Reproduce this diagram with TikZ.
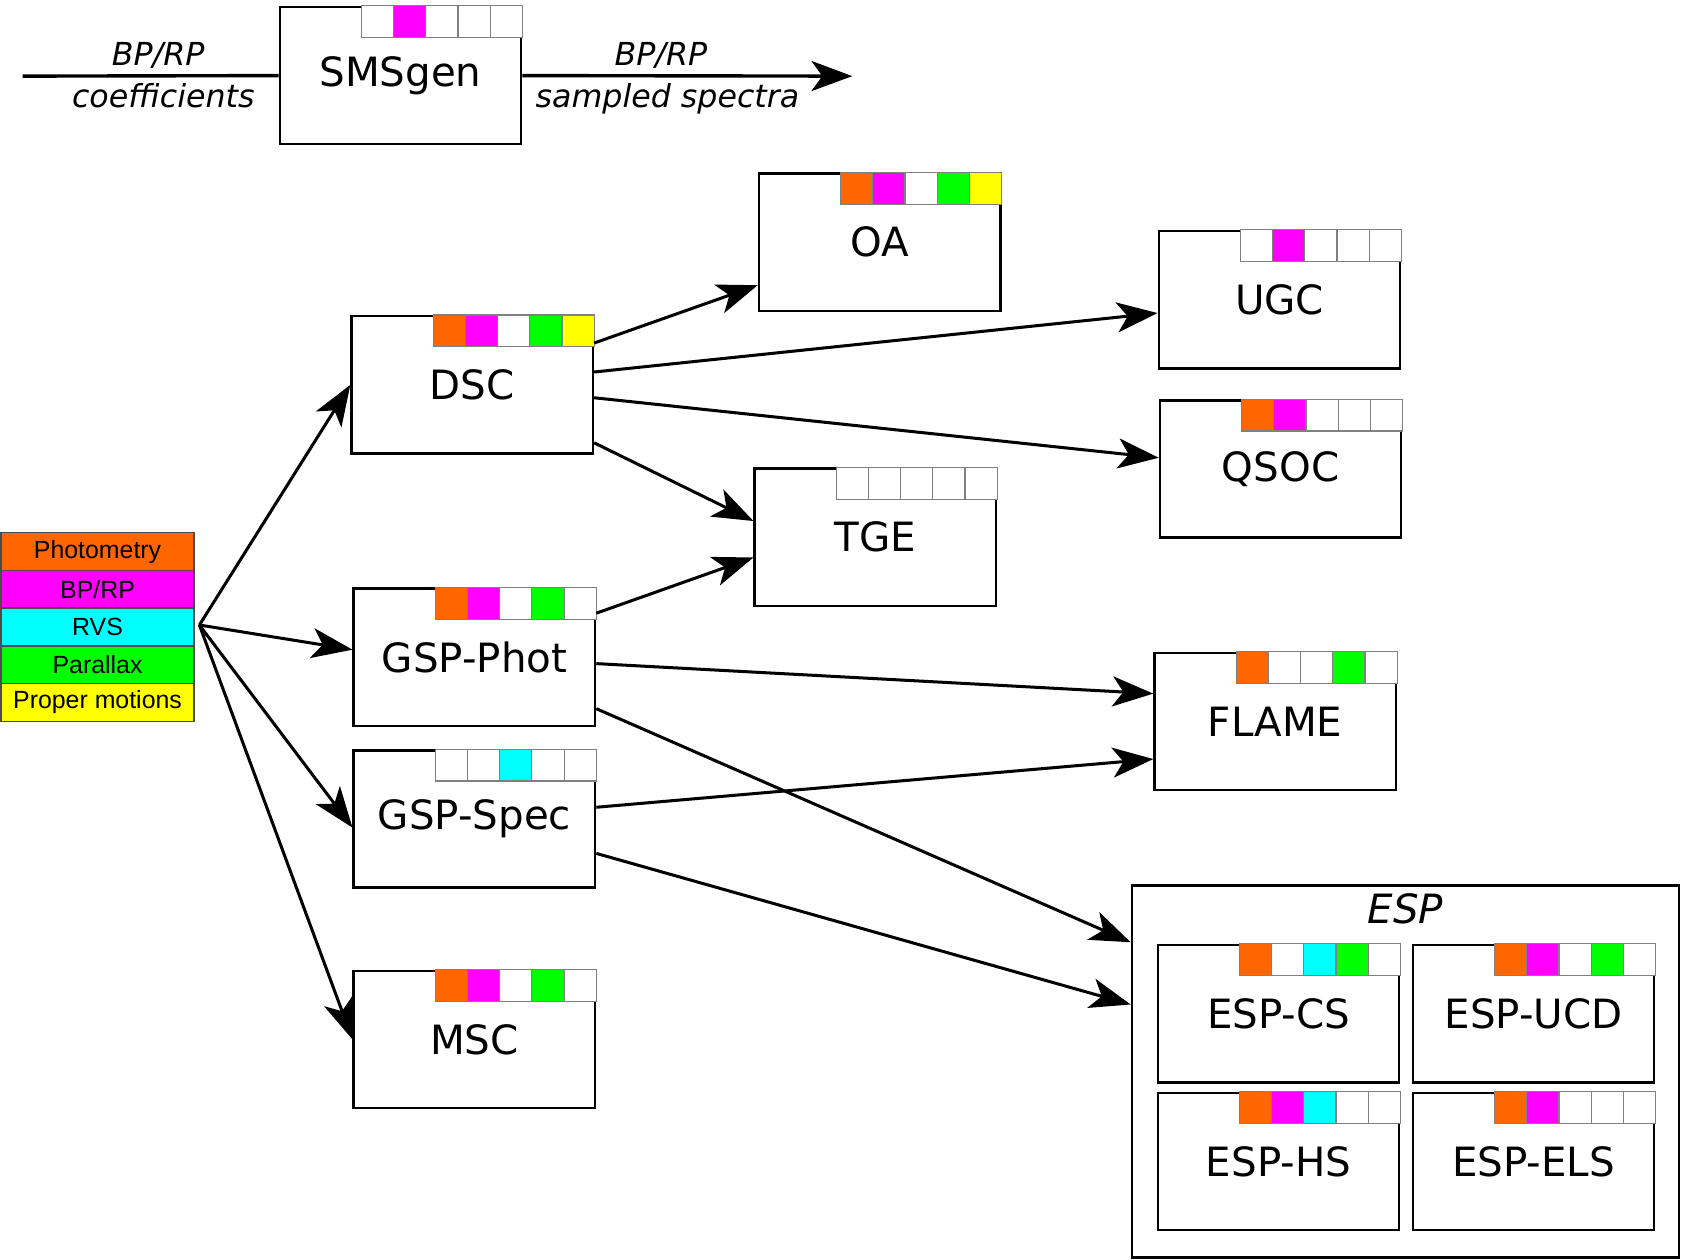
\documentclass[tikz,border=0pt]{standalone}
\usepackage{fontspec}
\setmainfont{DejaVu Sans}
\newfontfamily\legfont{Liberation Sans}
\usetikzlibrary{arrows.meta}
\definecolor{cphot}{HTML}{FF6600}
\definecolor{cbprp}{HTML}{FF00FF}
\definecolor{crvs}{HTML}{00FFFF}
\definecolor{cplx}{HTML}{00FF00}
\definecolor{cpm}{HTML}{FFFF00}
\tikzset{
  modbox/.style={draw,line width=0.65pt,minimum width=2.25cm,minimum height=1.28cm,font=\fontsize{10.7}{12}\selectfont},
  flag/.style={draw=gray,line width=0.3pt},
  link/.style={line width=0.8pt,-{Stealth[length=0.38cm,width=0.28cm,inset=0.1cm]}},
  lbl/.style={font=\fontsize{8.4}{10}\selectfont\itshape,inner sep=1.5pt},
  legbox/.style={draw=black!70,line width=0.4pt,minimum width=1.8cm,minimum height=0.352cm,inner sep=0pt,font=\legfont\fontsize{6.6}{8}\selectfont}
}
% module box with its five input flags top right
\newcommand{\module}[4]{%
  \node[modbox] (#1) at (#2) {#3};
  \foreach \col [count=\i] in {#4}
    \draw[flag,fill=\col] ([xshift={(\i-6)*0.3cm}]#1.north east) rectangle ++(0.3cm,-0.297cm);
}
\begin{document}
\begin{tikzpicture}[x=0.01cm,y=-0.01cm]
\useasboundingbox (0,0) rectangle (1568,1175);
\foreach \col/\txt [count=\i] in {cphot/Photometry,cbprp/{BP/RP},crvs/RVS,cplx/Parallax,cpm/Proper motions}
  \node[legbox,fill=\col] (leg\i) at (91,{479.3+35.2*\i}) {\txt};
\coordinate (fan) at (186,583);
\coordinate (in) at (21,71);
\coordinate (out) at (795,71);
\module{SMSgen}{373.5,70.5}{SMSgen}{white,cbprp,white,white,white}
\module{OA}{820.5,226}{OA}{cphot,cbprp,white,cplx,cpm}
\module{UGC}{1193.5,279.5}{UGC}{white,cbprp,white,white,white}
\module{DSC}{440.5,359}{DSC}{cphot,cbprp,white,cplx,cpm}
\module{QSOC}{1194.5,437.5}{QSOC}{cphot,cbprp,white,white,white}
\module{TGE}{816.5,501}{TGE}{white,white,white,white,white}
\module{GSPPhot}{442.5,613}{GSP-Phot}{cphot,cbprp,white,cplx,white}
\module{FLAME}{1189.5,673}{FLAME}{cphot,white,white,cplx,white}
\module{GSPSpec}{442.5,764}{GSP-Spec}{white,white,crvs,white,white}
\module{MSC}{442.5,969.5}{MSC}{cphot,cbprp,white,cplx,white}
\node[draw,line width=0.65pt,minimum width=5.1cm,minimum height=3.47cm] (ESP) at (1311,999.5) {};
\node[font=\fontsize{10.7}{12}\selectfont\itshape] (ESPtitle) at (1311,848) {ESP};
\module{ESPCS}{1192.5,945.5}{ESP-CS}{cphot,white,crvs,cplx,white}
\module{ESPUCD}{1430.5,945.5}{ESP-UCD}{cphot,cbprp,white,cplx,white}
\module{ESPHS}{1192.5,1083.5}{ESP-HS}{cphot,cbprp,crvs,white,white}
\module{ESPELS}{1430.5,1083.5}{ESP-ELS}{cphot,cbprp,white,white,white}
\draw[line width=0.9pt](in)--node[pos=0.53,above,lbl]{BP/RP}node[pos=0.55,below,lbl]{coefficients}(SMSgen.west);
\draw[link,line width=0.9pt](SMSgen.east)--node[pos=0.42,above,lbl]{BP/RP}node[pos=0.44,below,lbl]{sampled spectra}(out);
\draw[link](fan)--(DSC.west);
\draw[link](fan)--([yshift=0.07cm]GSPPhot.west);
\draw[link](fan)--([yshift=-0.08cm]GSPSpec.west);
\draw[link](fan)--(MSC.west);
\draw[link]([yshift=0.39cm]DSC.east)--([yshift=-0.4cm]OA.west);
\draw[link]([yshift=0.12cm]DSC.east)--([yshift=-0.125cm]UGC.west);
\draw[link]([yshift=-0.12cm]DSC.east)--([yshift=0.105cm]QSOC.west);
\draw[link]([yshift=-0.54cm]DSC.east)--([yshift=0.15cm]TGE.west);
\draw[link]([yshift=0.41cm]GSPPhot.east)--([yshift=-0.19cm]TGE.west);
\draw[link]([yshift=-0.06cm]GSPPhot.east)--([yshift=0.26cm]FLAME.west);
\draw[link]([yshift=-0.48cm]GSPPhot.east)--([yshift=1.205cm]ESP.west);
\draw[link]([yshift=0.11cm]GSPSpec.east)--([yshift=-0.35cm]FLAME.west);
\draw[link]([yshift=-0.32cm]GSPSpec.east)--([yshift=0.625cm]ESP.west);
\end{tikzpicture}
\end{document}
